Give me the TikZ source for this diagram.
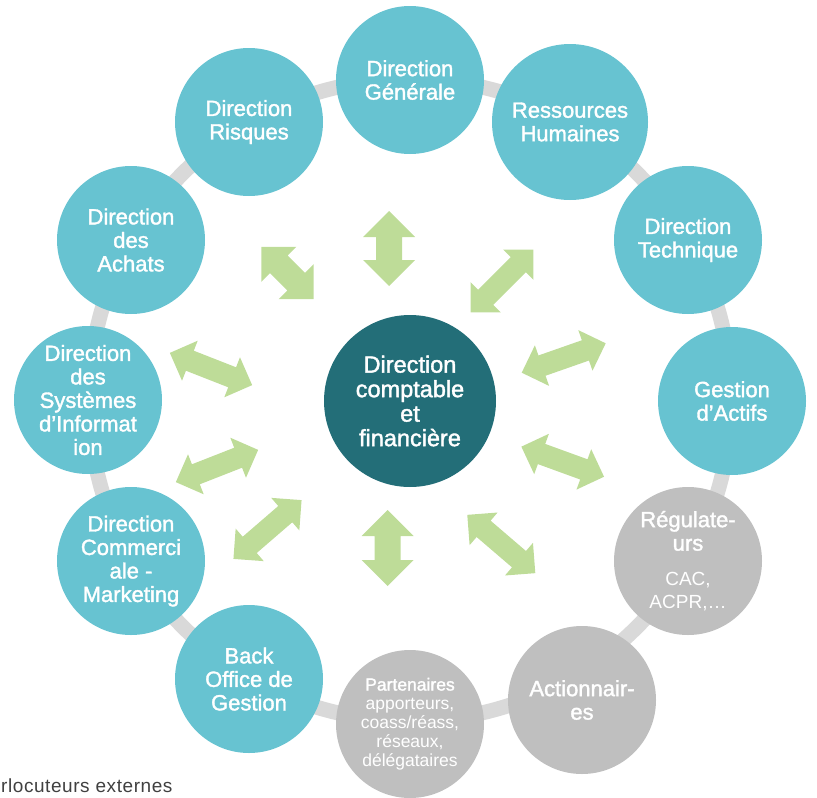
\documentclass[tikz,border=0pt]{standalone}
\usepackage{fontspec}
\setmainfont{Liberation Sans}
\newfontfamily\medf[FakeBold=1.6]{Liberation Sans}
\newfontfamily\regf{Liberation Sans}
\newfontfamily\legf[LetterSpace=3]{Liberation Sans}
\definecolor{tealc}{RGB}{103,195,209}
\definecolor{darkc}{RGB}{35,110,120}
\definecolor{grayc}{RGB}{191,191,191}
\definecolor{ringc}{RGB}{217,217,217}
\definecolor{arrowg}{RGB}{190,220,152}
\definecolor{legendc}{RGB}{64,64,64}
\newcommand{\garrow}[5]{%
  \fill[arrowg, shift={(#1,#2)}, rotate=-#3]
  ({-#4/2},0) -- ({-#4/2+#5/2},{#5/2}) -- ({-#4/2+#5/2},{#5/4}) --
  ({#4/2-#5/2},{#5/4}) -- ({#4/2-#5/2},{#5/2}) -- ({#4/2},0) --
  ({#4/2-#5/2},{-#5/2}) -- ({#4/2-#5/2},{-#5/4}) --
  ({-#4/2+#5/2},{-#5/4}) -- ({-#4/2+#5/2},{-#5/2}) -- cycle;}
\begin{document}
\begin{tikzpicture}[x=1pt,y=-1pt]
\tikzset{
  outer/.style={circle, minimum size=148pt, inner sep=0pt, align=center,
    text=white, font=\medf\fontsize{22}{23.5}\selectfont},
  tealnode/.style={outer, fill=tealc},
  graynode/.style={outer, fill=grayc},
  centernode/.style={circle, minimum size=172pt, inner sep=0pt, align=center,
    fill=darkc, text=white, font=\medf\fontsize{23.5}{24.5}\selectfont},
  ring/.style={draw=ringc, line width=15pt}
}
\useasboundingbox (0,0) rectangle (817,798);
% ring
\draw[ring] (410,400) circle[radius=321];
% outer circles
\node[tealnode] (dg)  at (410,80)  {Direction\\Générale};
\node[tealnode, minimum size=156pt] (rh) at (570,122) {Ressources\\Humaines};
\node[tealnode] (dt)  at (688,240) {Direction\\Technique};
\node[tealnode] (ga)  at (732,401) {Gestion\\d’Actifs};
\node[graynode] (reg) at (688,561) {Régulate-\\urs\\[11pt]{\regf\fontsize{19}{21}\selectfont CAC,}\\{\regf\fontsize{19}{21}\selectfont ACPR,…}};
\node[graynode] (act) at (582,700) {Actionnair-\\es};
\node[graynode, font=\regf\fontsize{17.5}{19}\selectfont] (part) at (410,724)
  {{\medf Partenaires}\\apporteurs,\\coass/réass,\\réseaux,\\délégataires};
\node[tealnode] (bo)  at (249,679) {Back\\Office de\\Gestion};
\node[tealnode] (dc)  at (131,561) {Direction\\Commerci\\ale -\\Marketing};
\node[tealnode] (dsi) at (88,400)  {Direction\\des\\Systèmes\\d’Informat\\ion};
\node[tealnode] (da)  at (131,240) {Direction\\des\\Achats};
\node[tealnode] (dr)  at (249,122) {Direction\\Risques};
% center
\node[centernode] (dcf) at (410,401) {Direction\\comptable\\et\\financière};
% arrows
\garrow{389}{248.5}{90}{75}{52}
\garrow{502}{281}{-45}{89}{43}
\garrow{563.7}{358}{-19.3}{89}{43}
\garrow{562.7}{461.7}{20}{88}{43}
\garrow{501.3}{544}{40.6}{89.6}{43}
\garrow{387.7}{548}{90}{76}{52}
\garrow{267.5}{529.5}{-40.8}{90}{43}
\garrow{217}{466}{-21.4}{88.4}{43}
\garrow{211}{369}{21.4}{88.4}{43}
\garrow{287.5}{273}{45}{74}{49.5}
% legend
\node[anchor=base west, inner sep=0pt, text=legendc, font=\legf\fontsize{19}{21}\selectfont] (legend) at (1,792) {rlocuteurs externes};
\end{tikzpicture}
\end{document}
